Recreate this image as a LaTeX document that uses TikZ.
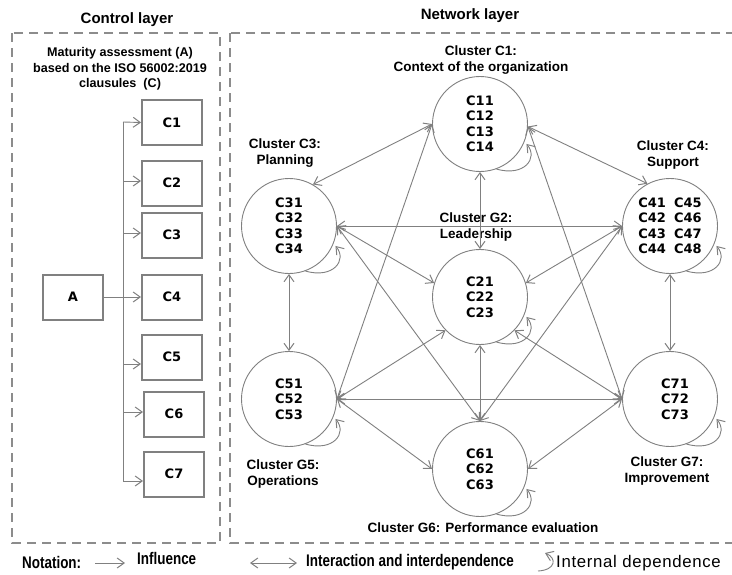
\documentclass[tikz,border=0pt]{standalone}
\usepackage{fontspec}
\setmainfont{Liberation Sans}
\newfontfamily\codefont{DejaVu Sans}
\newfontfamily\narrowfont{Liberation Sans}[FakeStretch=0.8]
\newfontfamily\widefont{Liberation Sans}[LetterSpace=4]
\usetikzlibrary{arrows.meta,calc}
\definecolor{lg}{RGB}{140,140,140}
\definecolor{dg}{RGB}{128,128,128}
\tikzset{
  tip/.tip={Straight Barb[length=7pt,width=10pt,line width=1pt]},
  conn/.style={draw=dg,line width=0.9pt},
  uni/.style={conn,-tip},
  bi/.style={conn,tip-tip},
  frame/.style={draw=lg,line width=2pt,dash pattern=on 9pt off 6pt},
  cbox/.style={draw=dg,line width=2pt,fill=white,minimum width=60pt,minimum height=45pt,inner sep=0pt,font=\codefont\bfseries\fontsize{13}{15}\selectfont},
  clus/.style={circle,draw=dg,line width=0.9pt,fill=white,minimum size=95pt,inner sep=0pt,align=center,font=\codefont\bfseries\fontsize{13}{15.5}\selectfont},
  lab/.style={align=center,inner sep=0pt,font=\bfseries\fontsize{13.5}{16}\selectfont},
  ttl/.style={inner sep=0pt,font=\bfseries\fontsize{15}{17}\selectfont},
  leg/.style={inner sep=0pt,anchor=west,font=\narrowfont\bfseries\fontsize{16.8}{19}\selectfont},
}
\begin{document}
\begin{tikzpicture}[x=1pt,y=-1pt]
\clip (0,0) rectangle (732,574);
\fill[white] (0,0) rectangle (732,574);
% frames
\draw[frame] (12,33) rectangle (220,543);
\draw[frame] (230,33) rectangle (745,543);
\node[ttl] (tctl) at (127,20) {Control layer};
\node[ttl] (tnet) at (470,16) {Network layer};
% control layer
\node[lab,font=\bfseries\fontsize{12.6}{15.5}\selectfont] (mat) at (120,69) {Maturity assessment (A)\\based on the ISO 56002:2019\\clausules\ \ (C)};
\node[cbox] (A) at (73,297) {A};
\node[cbox] (K1) at (172,122.5) {C1};
\node[cbox] (K2) at (172,183) {C2};
\node[cbox] (K3) at (172,235) {C3};
\node[cbox] (K4) at (172,297) {C4};
\node[cbox] (K5) at (172,357) {C5};
\node[cbox] (K6) at (174,414) {C6};
\node[cbox] (K7) at (174,474) {C7};
\coordinate (trT) at (123,122);
\coordinate (trB) at (123,481);
\draw[conn] (trT) -- (trB);
\draw[uni] (A.east) -- (K4.west);
\draw[uni] (trT) -- (K1.west);
\draw[uni] (trT |- 0,181) -- ([yshift=2pt]K2.west);
\draw[uni] (trT |- 0,233) -- ([yshift=2pt]K3.west);
\draw[uni] (trT |- 0,364) -- ([yshift=-7pt]K5.west);
\draw[uni] (trT |- 0,412) -- ([yshift=2pt]K6.west);
\draw[uni] (trB) -- ([yshift=-7pt]K7.west);
% network layer clusters
\node[clus] (C1) at (480,124) {C11\\C12\\C13\\C14};
\node[clus] (C3) at (289,226) {C31\\C32\\C33\\C34};
\node[clus] (C4) at (670,226) {C41\hspace{8pt}C45\\C42\hspace{8pt}C46\\C43\hspace{8pt}C47\\C44\hspace{8pt}C48};
\node[clus] (G2) at (480,297) {C21\\C22\\C23};
\node[clus] (G5) at (289,399) {C51\\C52\\C53};
\node[clus] (G6) at (480,469) {\raisebox{-3pt}{\parbox{40pt}{\centering C61\\C62\\C63}}};
\node[clus] (G7) at (670,399) {\hspace*{10pt}C71\\\hspace*{10pt}C72\\\hspace*{10pt}C73};
% labels
\node[lab] (LC1) at (481,60) {Cluster C1:\\Context of the organization};
\node[lab] (LC3) at (285,153) {Cluster C3:\\Planning};
\node[lab] (LC4) at (673,155) {Cluster C4:\\Support};
\node[lab] (LG2) at (476,227) {Cluster G2:\\Leadership};
\node[lab] (LG5) at (283,474) {Cluster G5:\\Operations};
\node[lab] (LG6) at (483,528) {Cluster G6: Performance evaluation};
\node[lab] (LG7) at (667,471) {Cluster G7:\\Improvement};
% interactions
\draw[bi] (C1.180) -- (C3.60);
\draw[bi] (C1.-3) -- (C4.118);
\draw[bi] (C1.south) -- (G2.north);
\draw[bi] (C1.180) -- (G5.east);
\draw[bi] (C1.-3) -- (G7.west);
\draw[bi] (C3.east) -- (C4.west);
\draw[bi] (C3.east) -- (G2.163);
\draw[bi] (C3.south) -- (G5.north);
\draw[bi] (C3.east) -- (G6.north);
\draw[bi] (C4.west) -- (G2.17);
\draw[bi] (C4.west) -- (G6.north);
\draw[bi] (C4.south) -- (G7.north);
\draw[bi] (G2.224) -- (G5.east);
\draw[bi] (G2.south) -- (G6.north);
\draw[bi] (G2.-44) -- (G7.west);
\draw[bi] (G5.east) -- (G6.west);
\draw[bi] (G5.east) -- (G7.west);
\draw[bi] (G6.east) -- (G7.west);
% internal dependence loops
\foreach \n in {C1,C3,C4,G2,G5,G6,G7}{
  \draw[uni] (\n.-70) .. controls +(28pt,-8pt) and +(12pt,-14pt) .. ([shift={(2pt,-2pt)}]\n.-22);
}
% legend
\node[leg] (nt) at (22,562) {Notation:};
\coordinate (a1) at (95,563);
\coordinate (a2) at (125,563);
\draw[uni] (a1) -- (a2);
\node[leg] (inf) at (137,558) {Influence};
\coordinate (b1) at (250,563);
\coordinate (b2) at (297,563);
\draw[bi] (b1) -- (b2);
\node[leg] (iai) at (306,562) {Interaction and interdependence};
\coordinate (d1) at (538,571);
\coordinate (d2) at (545,553);
\draw[uni] (d1) .. controls (556,570) and (557,558) .. (d2);
\node[leg,font=\widefont\fontsize{16.8}{19}\selectfont] (ind) at (556,563) {Internal dependence};
\end{tikzpicture}
\end{document}
